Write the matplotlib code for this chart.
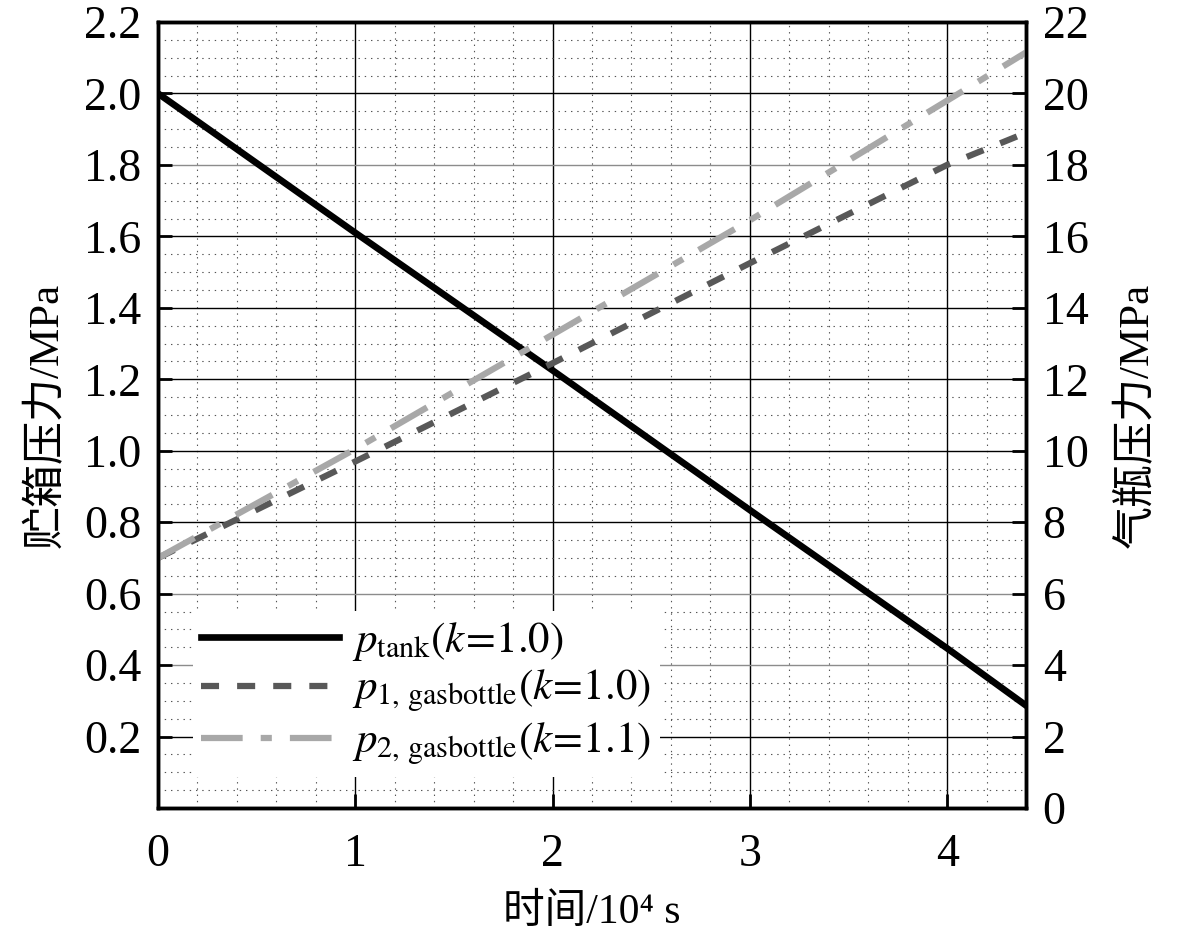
import numpy as np
import matplotlib
matplotlib.use("Agg")
import matplotlib.pyplot as plt
from matplotlib.ticker import MultipleLocator

plt.rcParams['font.family'] = ['Liberation Serif', 'Noto Sans CJK SC', 'DejaVu Serif']
plt.rcParams['mathtext.fontset'] = 'stix'
plt.rcParams['lines.scale_dashes'] = False

# time in 10^4 s
t = [0.0, 1.0, 2.0, 3.0, 4.0, 4.4]
# tank pressure, MPa (left axis)
p_tank = [2.00, 1.61, 1.225, 0.834, 0.447, 0.287]
# gas bottle pressures, MPa (right axis)
p1_gas = [7.0, 9.7, 12.45, 15.25, 18.0, 18.9]
p2_gas = [7.0, 10.05, 13.25, 16.45, 19.8, 21.15]

labels = [r'$p_{\mathrm{tank}}(k\!=\!1.0)$',
          r'$p_{1,\,\mathrm{gasbottle}}(k\!=\!1.0)$',
          r'$p_{2,\,\mathrm{gasbottle}}(k\!=\!1.1)$']

fig = plt.figure(figsize=(11.81, 9.44), dpi=100)
ax = fig.add_axes([0.1338, 0.144, 0.735, 0.8327])
ax2 = ax.twinx()

ax.set_xlim(0, 4.4)
ax.set_ylim(0, 2.2)
ax2.set_ylim(0, 22)

ax.xaxis.set_major_locator(MultipleLocator(1))
ax.xaxis.set_minor_locator(MultipleLocator(0.2))
ax.yaxis.set_major_locator(MultipleLocator(0.2))
ax.yaxis.set_minor_locator(MultipleLocator(0.05))
ax2.yaxis.set_major_locator(MultipleLocator(2))

# grid
ax.grid(which='major', axis='both', color='black', lw=1.0)
ax.grid(which='minor', axis='both', color='#555555', lw=0.8, ls=(0, (1, 3.5)))
ax.set_axisbelow(True)
yt = ax.get_yticks()
for val, gl in zip(yt, ax.get_ygridlines()):
    if round(val, 2) in (1.8, 0.6, 0.4):
        gl.set_color('#8c8c8c')

l1, = ax.plot(t, p_tank, color='black', lw=4.8)
l2, = ax2.plot(t, p1_gas, color='#585858', lw=4.5, dashes=(13, 13))
l3, = ax2.plot(t, p2_gas, color='#a8a8a8', lw=4.5, dashes=(30, 13, 8, 13))

# ticks
ax.tick_params(axis='both', which='major', direction='in', labelsize=33,
               length=10, width=2, top=False, pad=12)
ax.tick_params(axis='x', which='major', pad=18)
ax.tick_params(axis='both', which='minor', length=0)
ax2.tick_params(axis='y', which='major', direction='in', labelsize=33,
                length=10, width=2, pad=12)
ax2.tick_params(axis='y', which='minor', length=0)

ax.set_yticks(yt)
ax.set_yticklabels(['' if abs(v) < 1e-9 else f'{v:.1f}' for v in yt])
ax.set_ylim(0, 2.2)
ax.set_xticklabels([f'{v:g}' for v in ax.get_xticks()])

for a in (ax, ax2):
    for s in a.spines.values():
        s.set_linewidth(2.5)

ax.set_xlabel('时间/10⁴ s', fontsize=30, labelpad=13)
ax.set_ylabel('贮箱压力/MPa', fontsize=31, labelpad=12)
ax2.set_ylabel('气瓶压力/MPa', fontsize=31, labelpad=20, rotation=90)

leg = ax2.legend([l1, l2, l3], labels, loc='lower left',
                 bbox_to_anchor=(0.04, 0.04), borderaxespad=0, fontsize=31,
                 frameon=True, framealpha=1, edgecolor='none', fancybox=False,
                 handlelength=3.2, handletextpad=0.3, labelspacing=0.12,
                 borderpad=0.2)

fig.savefig('out.png', dpi=100)
